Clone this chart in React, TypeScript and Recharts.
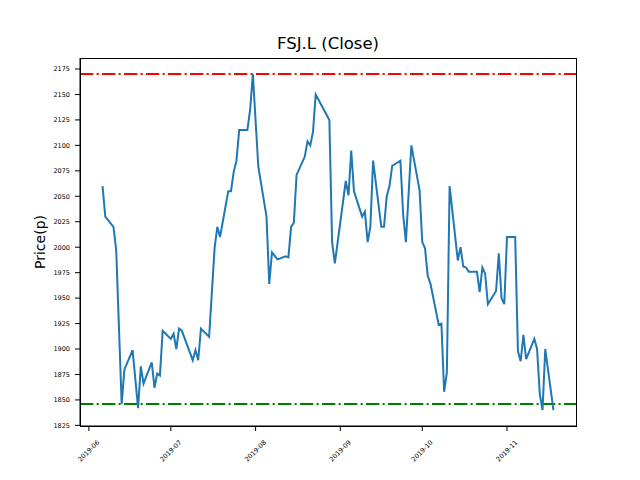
import { LineChart, Line, XAxis, YAxis, ReferenceLine } from "recharts";

// closing prices
const dates = [
  "2019-06-06", "2019-06-07", "2019-06-10", "2019-06-11", "2019-06-13", "2019-06-14",
  "2019-06-17", "2019-06-19", "2019-06-20", "2019-06-21", "2019-06-24", "2019-06-25",
  "2019-06-26", "2019-06-27", "2019-06-28", "2019-07-01", "2019-07-02", "2019-07-03",
  "2019-07-04", "2019-07-05", "2019-07-09", "2019-07-10", "2019-07-11", "2019-07-12",
  "2019-07-15", "2019-07-17", "2019-07-18", "2019-07-19", "2019-07-22", "2019-07-23",
  "2019-07-24", "2019-07-25", "2019-07-26", "2019-07-29", "2019-07-30", "2019-07-31",
  "2019-08-02", "2019-08-05", "2019-08-06", "2019-08-07", "2019-08-09", "2019-08-12",
  "2019-08-13", "2019-08-14", "2019-08-15", "2019-08-16", "2019-08-19", "2019-08-20",
  "2019-08-21", "2019-08-22", "2019-08-23", "2019-08-28", "2019-08-29", "2019-08-30",
  "2019-09-03", "2019-09-04", "2019-09-05", "2019-09-06", "2019-09-09", "2019-09-10",
  "2019-09-11", "2019-09-12", "2019-09-13", "2019-09-16", "2019-09-17", "2019-09-18",
  "2019-09-19", "2019-09-20", "2019-09-23", "2019-09-24", "2019-09-25", "2019-09-27",
  "2019-09-30", "2019-10-01", "2019-10-02", "2019-10-03", "2019-10-04", "2019-10-07",
  "2019-10-08", "2019-10-09", "2019-10-10", "2019-10-11", "2019-10-14", "2019-10-15",
  "2019-10-16", "2019-10-17", "2019-10-18", "2019-10-21", "2019-10-22", "2019-10-23",
  "2019-10-24", "2019-10-25", "2019-10-28", "2019-10-29", "2019-10-30", "2019-10-31",
  "2019-11-01", "2019-11-04", "2019-11-05", "2019-11-06", "2019-11-07", "2019-11-08",
  "2019-11-11", "2019-11-12", "2019-11-13", "2019-11-14", "2019-11-15", "2019-11-18",
];

const closes = [
  2060, 2030, 2020, 1997, 1846, 1880,
  1899, 1842, 1883, 1866, 1887, 1862,
  1876, 1874, 1918, 1910, 1915, 1900,
  1920, 1918, 1889, 1899, 1889, 1920,
  1912, 1999, 2020, 2010, 2055, 2055,
  2074, 2085, 2115, 2115, 2135, 2170,
  2079, 2030, 1964, 1995, 1988, 1991,
  1990, 2020, 2024, 2071, 2089, 2104,
  2100, 2113, 2150, 2125, 2005, 1984,
  2065, 2051, 2095, 2055, 2030, 2035,
  2005, 2020, 2085, 2020, 2020, 2050,
  2060, 2080, 2085, 2032, 2005, 2100,
  2056, 2005, 1999, 1972, 1964, 1924,
  1925, 1858, 1877, 2060, 1987, 2000,
  1981, 1980, 1976, 1976, 1956, 1980,
  1974, 1944, 1957, 1994, 1950, 1944,
  2010, 2010, 1898, 1888, 1914, 1890,
  1910, 1900, 1856, 1840, 1900, 1840,
];

const monthStarts = ["2019-06-01", "2019-07-01", "2019-08-01", "2019-09-01", "2019-10-01", "2019-11-01"];
const monthLabels = ["2019-06", "2019-07", "2019-08", "2019-09", "2019-10", "2019-11"];
const priceTicks = [1825, 1850, 1875, 1900, 1925, 1950, 1975, 2000, 2025, 2050, 2075, 2100, 2125, 2150, 2175];

const upperLevel = 2170;
const lowerLevel = 1846;

const DAY = 86400000;
const origin = Date.parse("2019-06-01");
const toDay = (d: string) => (Date.parse(d) - origin) / DAY;

const data = dates.map((d, i) => ({ day: toDay(d), close: closes[i] }));
const xTicks = monthStarts.map(toDay);

const FONT = "DejaVu Sans, sans-serif";
const DASH_DOT = "13.3 3.3 2.1 3.3";

function DateTick(props: any) {
  const { x, y, payload } = props;
  const idx = xTicks.indexOf(payload.value);
  return (
    <g transform={`translate(${x},${y + 15})`}>
      <text
        transform="rotate(-45)"
        textAnchor="middle"
        dominantBaseline="central"
        fontSize={6.5}
        fontFamily={FONT}
        fill="#000"
      >
        {monthLabels[idx]}
      </text>
    </g>
  );
}

export default function App() {
  return (
    <div style={{ position: "absolute", left: 0, top: 0, width: 640, height: 480, background: "#fff" }}>
      <div
        style={{
          position: "absolute",
          left: 80,
          width: 496,
          top: 33,
          height: 22,
          lineHeight: "22px",
          textAlign: "center",
          fontFamily: FONT,
          fontSize: 16.5,
          color: "#000",
        }}
      >
        FSJ.L (Close)
      </div>
      <LineChart width={640} height={480} data={data} margin={{ top: 58, right: 64, bottom: 0, left: 0 }}>
        <XAxis
          dataKey="day"
          type="number"
          domain={[-3.25, 178.25]}
          ticks={xTicks}
          height={54}
          tick={<DateTick />}
          tickSize={5}
          tickMargin={5}
          stroke="#000"
          axisLine={{ stroke: "#000", strokeWidth: 1 }}
          tickLine={{ stroke: "#000" }}
          allowDataOverflow
        />
        <YAxis
          type="number"
          domain={[1824.4, 2185.8]}
          ticks={priceTicks}
          width={80}
          tickSize={5}
          tickMargin={5}
          interval={0}
          tick={{ fontSize: 6.5, fontFamily: FONT, fill: "#000" }}
          axisLine={{ stroke: "#000", strokeWidth: 1 }}
          tickLine={{ stroke: "#000" }}
          allowDataOverflow
          label={{
            value: "Price(p)",
            angle: -90,
            position: "center",
            style: { fontSize: 14, fontFamily: FONT, fill: "#000" },
          }}
        />
        <ReferenceLine y={upperLevel} stroke="#ff0000" strokeWidth={2} strokeDasharray={DASH_DOT} />
        <ReferenceLine y={lowerLevel} stroke="#008000" strokeWidth={2} strokeDasharray={DASH_DOT} />
        <Line
          dataKey="close"
          type="linear"
          stroke="#1f77b4"
          strokeWidth={2}
          dot={false}
          activeDot={false}
          isAnimationActive={false}
        />
      </LineChart>
      {/* axes frame */}
      <div
        style={{
          position: "absolute",
          left: 80,
          top: 58,
          width: 497,
          height: 369,
          boxSizing: "border-box",
          border: "1px solid #000",
          pointerEvents: "none",
        }}
      />
    </div>
  );
}
